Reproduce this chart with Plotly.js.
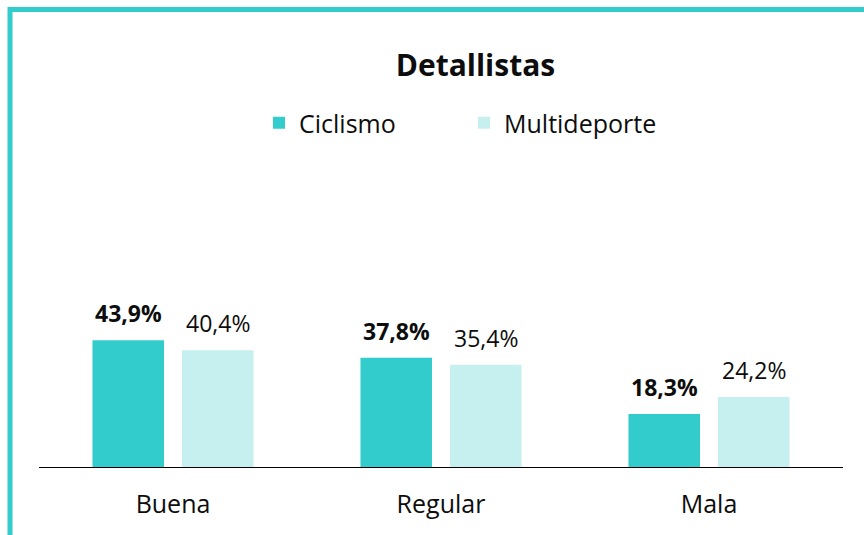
<!DOCTYPE html>
<html>
<head>
<meta charset="utf-8">
<script src="https://cdn.plot.ly/plotly-3.0.1.min.js"></script>
<style>
html,body{margin:0;padding:0;background:#fff;}
#chart{width:864px;height:535px;}
svg text{font-variant-ligatures:none;}
</style>
</head>
<body>
<div id="chart"></div>
<script>
const categories = ["Buena", "Regular", "Mala"];
const seriesNames = ["Ciclismo", "Multideporte"];
const ciclismo = [43.9, 37.8, 18.3];
const multideporte = [40.4, 35.4, 24.2];
const colors = ["#33CCCC", "#C6EFEF"];
const titleText = "Detallistas";

const FONT = "'Open Sans', 'Noto Sans', sans-serif";
const W = 864, H = 535;
const M = {l: 39, r: 21, t: 150, b: 68};
const PW = W - M.l - M.r, PH = H - M.t - M.b;
const pxX = px => (px - M.l) / PW;
const pxY = py => 1 - (py - M.t) / PH;

const bargap = 0.332;
const series = [ciclismo, multideporte];
const fmt = v => v.toFixed(1).replace(".", ",") + "%";

const traces = series.map((vals, k) => ({
  type: "bar",
  name: seriesNames[k],
  x: categories,
  y: vals,
  marker: {color: colors[k], line: {width: 0}},
  hoverinfo: "skip"
}));

const slot = (1 - bargap) / series.length;
const annotations = [];
series.forEach((vals, k) => {
  vals.forEach((v, i) => {
    annotations.push({
      xref: "x", yref: "y",
      x: i + (k - (series.length - 1) / 2) * slot,
      y: v,
      text: k === 0 ? "<b>" + fmt(v) + "</b>" : fmt(v),
      showarrow: false,
      yanchor: "middle",
      yshift: 27,
      font: {family: FONT, size: 23, color: "#0d0d0d"}
    });
  });
});

const layout = {
  width: W, height: H,
  margin: M,
  paper_bgcolor: "#ffffff",
  plot_bgcolor: "#ffffff",
  font: {family: FONT, color: "#0d0d0d"},
  title: {
    text: "<b>" + titleText + "</b>",
    font: {family: FONT, size: 30, color: "#0d0d0d"},
    x: 475.5 / W, xanchor: "center", xref: "container",
    y: 1 - 65 / H, yanchor: "middle", yref: "container"
  },
  barmode: "group",
  bargap: bargap,
  bargroupgap: 0.201,
  showlegend: true,
  legend: {
    orientation: "h",
    x: pxX(259), xanchor: "left", xref: "paper",
    y: pxY(123), yanchor: "middle", yref: "paper",
    entrywidth: 160, entrywidthmode: "pixels",
    font: {family: FONT, size: 25, color: "#0d0d0d"},
    bgcolor: "rgba(0,0,0,0)"
  },
  xaxis: {
    type: "category",
    showline: true, linecolor: "#000000", linewidth: 1,
    showgrid: false, zeroline: false, ticks: "",
    ticklabelstandoff: 15,
    tickfont: {family: FONT, size: 25, color: "#0d0d0d"},
    fixedrange: true
  },
  yaxis: {
    range: [0, PH / 2.89],
    visible: false, showgrid: false, zeroline: false,
    fixedrange: true
  },
  annotations: annotations,
  shapes: [{
    type: "rect", xref: "paper", yref: "paper",
    x0: pxX(10), x1: pxX(W + 20),
    y0: pxY(9.5), y1: pxY(H + 20),
    line: {color: "#33CCCC", width: 5},
    fillcolor: "rgba(0,0,0,0)",
    layer: "above"
  }]
};

Plotly.newPlot("chart", traces, layout, {displayModeBar: false, staticPlot: true});
</script>
</body>
</html>
